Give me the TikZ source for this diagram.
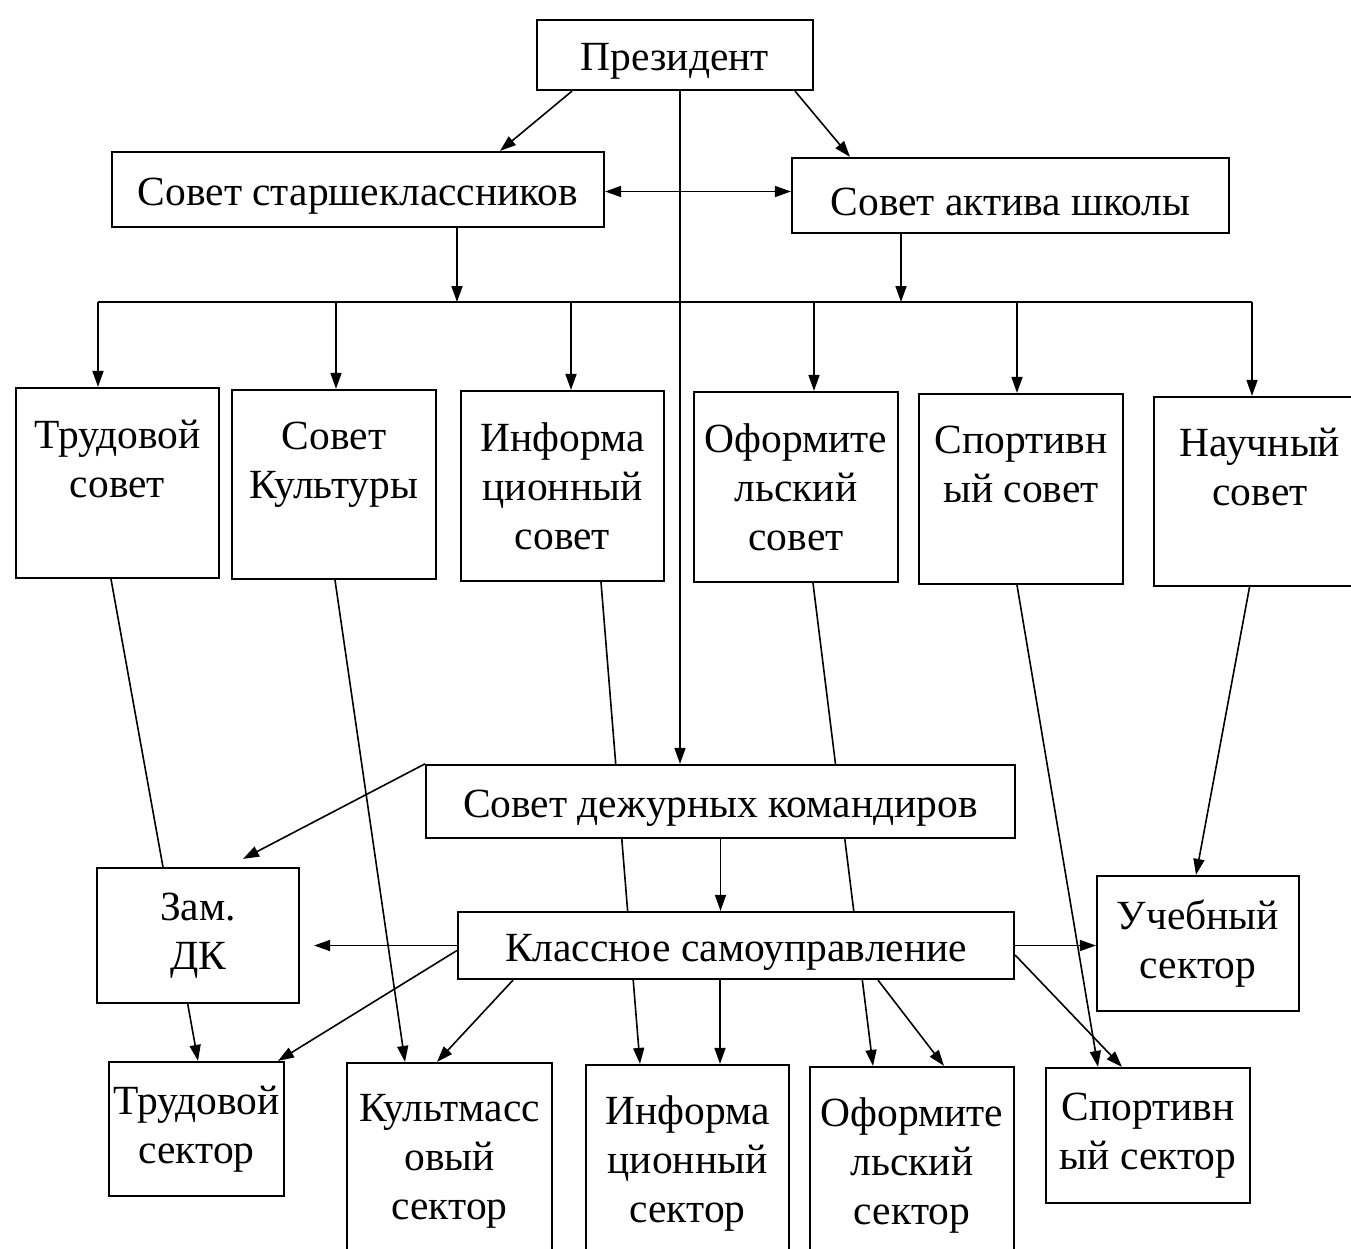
\documentclass[tikz,border=0pt]{standalone}
\usepackage{fontspec}
\setmainfont{Liberation Serif}
\usetikzlibrary{arrows.meta,backgrounds}
\begin{document}
\begin{tikzpicture}[x=1pt,y=-1pt,
  box/.style={draw, line width=2.2pt, fill=white, align=center, inner sep=0pt,
    font=\fontsize{41.5}{49}\selectfont},
  low/.style={execute at begin node={\rule{0pt}{40pt}}},
  conn/.style={line width=1.6pt},
  arr/.style={conn, -{Triangle[length=16pt,width=11pt]}},
  darr/.style={conn, {Triangle[length=16pt,width=11pt]}-{Triangle[length=16pt,width=11pt]}}]
\path[use as bounding box] (0,0) rectangle (1351,1248);
\begin{scope}
\clip (0,0) rectangle (1351,1248);
% top
\node[box, low, minimum width=276pt, minimum height=70pt] (pres) at (675,55) {Президент};
\node[box, low, minimum width=492pt, minimum height=75pt] (ss) at (358,189.5) {Совет старшеклассников};
\node[box, low, minimum width=437pt, minimum height=75pt] (sa) at (1010.5,195.5) {Совет актива школы};
% councils
\node[box, minimum width=203pt, minimum height=190pt] (ts) at (117.5,483) {Трудовой\\совет\\~};
\node[box, minimum width=204pt, minimum height=189pt] (sk) at (334,484.5) {Совет\\Культуры\\~};
\node[box, minimum width=203pt, minimum height=190pt] (is) at (562.5,486) {Информа\\ционный\\совет};
\node[box, minimum width=204pt, minimum height=190pt] (os) at (796,487) {Оформите\\льский\\совет};
\node[box, minimum width=204pt, minimum height=190pt] (sp) at (1021,489) {Спортивн\\ый совет\\~};
\node[box, minimum width=212pt, minimum height=189pt] (ns) at (1260,491.5) {Научный\\совет\\~};
% middle
\node[box, low, minimum width=589pt, minimum height=73pt] (sd) at (720.5,801.5) {Совет дежурных командиров};
\node[box, low, minimum width=202pt, minimum height=135pt] (zam) at (198,935.5) {Зам.\\ДК};
\node[box, low, minimum width=556pt, minimum height=67pt] (kl) at (736,945.5) {Классное самоуправление};
\node[box, low, minimum width=202pt, minimum height=135pt] (ucheb) at (1198,943.5) {Учебный\\сектор};
% sectors
\node[box, low, minimum width=175pt, minimum height=134pt] (trs) at (196.5,1129) {Трудовой\\сектор};
\node[box, minimum width=205pt, minimum height=196pt] (kms) at (449.5,1161) {Культмасс\\овый\\сектор};
\node[box, minimum width=203pt, minimum height=196pt] (ins) at (687.5,1163) {Информа\\ционный\\сектор};
\node[box, minimum width=204pt, minimum height=196pt] (ofs) at (912,1165) {Оформите\\льский\\сектор};
\node[box, low, minimum width=204pt, minimum height=135pt] (sps) at (1148,1135.5) {Спортивн\\ый сектор};
\end{scope}
% bus coordinates
\coordinate (d1) at (98,302);
\coordinate (d2) at (336,302);
\coordinate (d3) at (571,302);
\coordinate (d4) at (814,302);
\coordinate (d5) at (1017,302);
\coordinate (d6) at (1252,302);
\begin{pgfonlayer}{background}
\fill[white] (0,0) rectangle (1351,1248);
% president
\draw[arr] ([xshift=-103pt]pres.south) -- ([xshift=142pt]ss.north);
\draw[arr] ([xshift=120pt]pres.south) -- ([xshift=-160.5pt]sa.north);
\draw[arr] ([xshift=5pt]pres.south) -- ([xshift=5pt]pres.south |- sd.north);
\draw[darr] ([yshift=-2pt]ss.east) -- ([yshift=-2pt]ss.east -| sa.west);
% bus
\draw[arr] ([xshift=99pt]ss.south) -- ([xshift=99pt]ss.south |- d1);
\draw[arr] ([xshift=-109.5pt]sa.south) -- ([xshift=-109.5pt]sa.south |- d1);
\draw[conn] (d1) -- (d6);
\draw[arr] (d1) -- (d1 |- ts.north);
\draw[arr] (d2) -- (d2 |- sk.north);
\draw[arr] (d3) -- (d3 |- is.north);
\draw[arr] (d4) -- (d4 |- os.north);
\draw[arr] (d5) -- (d5 |- sp.north);
\draw[arr] (d6) -- (d6 |- ns.north);
% councils down to sectors
\draw[arr] ([xshift=-6.5pt]ts.south) -- ([xshift=1.5pt]trs.north);
\draw[arr] ([xshift=1pt]sk.south) -- ([xshift=-44.5pt]kms.north);
\draw[arr] ([xshift=38.5pt]is.south) -- ([xshift=-47.5pt]ins.north);
\draw[arr] ([xshift=17pt]os.south) -- ([xshift=-39pt]ofs.north);
\draw[arr] ([xshift=-4pt]sp.south) -- ([xshift=-50pt]sps.north);
\draw[arr] ([xshift=-10.5pt]ns.south) -- ([xshift=-2pt]ucheb.north);
% duty council
\draw[arr] (sd.north west) -- ([xshift=45pt,yshift=8pt]zam.north);
\draw[arr] (sd.south) -- (sd.south |- kl.north);
% class self-government
\draw[arr] (kl.west) -- ([xshift=14pt]zam.east |- kl.west);
\draw[arr] ([yshift=-5pt]kl.west) -- ([xshift=81.5pt]trs.north);
\draw[arr] ([xshift=-223pt]kl.south) -- ([xshift=-12.5pt]kms.north);
\draw[arr] ([xshift=-16pt]kl.south) -- ([xshift=-16pt]kl.south |- ins.north);
\draw[arr] ([xshift=142pt]kl.south) -- ([xshift=32pt]ofs.north);
\draw[arr] (kl.east) -- (kl.east -| ucheb.west);
\draw[arr] ([yshift=-9.5pt]kl.east) -- ([xshift=-26pt]sps.north);
\end{pgfonlayer}
\end{tikzpicture}
\end{document}
